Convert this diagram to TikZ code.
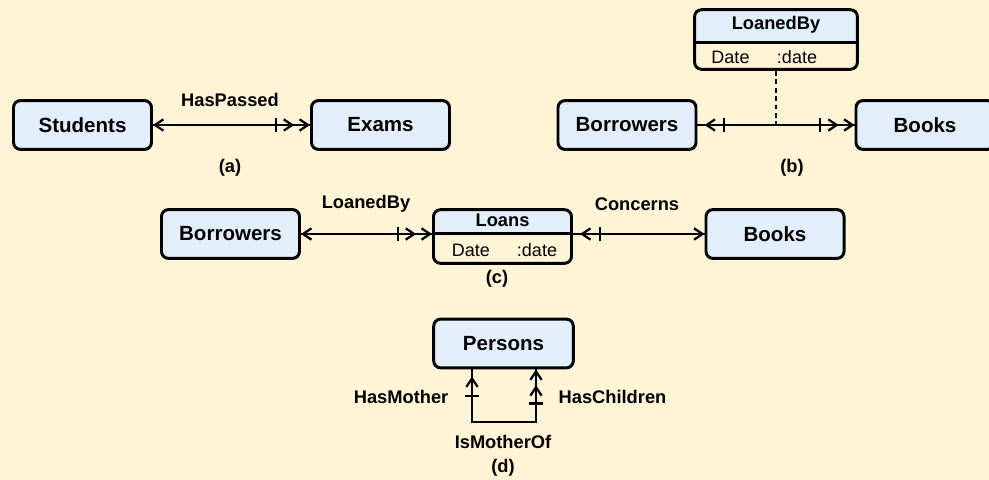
\documentclass[tikz,border=0pt]{standalone}
\usepackage{fontspec}
\setmainfont{Liberation Sans}
\usetikzlibrary{positioning,arrows.meta}

\definecolor{bgcream}{RGB}{255,245,214}
\definecolor{boxblue}{RGB}{226,239,250}

\tikzset{
  entity/.style={draw, line width=2.1pt, rounded corners=5pt, fill=boxblue,
    minimum width=3.45cm, minimum height=1.22cm,
    font=\fontsize{14.6}{17}\selectfont\bfseries},
  compound/.style={draw, line width=2.1pt, rounded corners=5pt, fill=bgcream,
    path picture={
      \fill[boxblue] (path picture bounding box.north west) rectangle ([yshift=-#1]path picture bounding box.north east);
      \draw[line width=2.1pt] ([yshift=-#1]path picture bounding box.north west) -- ([yshift=-#1]path picture bounding box.north east);
    }},
  rel/.style={font=\fontsize{13}{15}\selectfont\bfseries, inner sep=1pt},
  attr/.style={font=\fontsize{12.8}{15}\selectfont, inner sep=1pt},
  link/.style={line width=1.6pt, preaction={draw, arrows=-, line width=1.6pt}},
  ptr/.tip={Straight Barb[length=6pt, width=8pt]},
  tck/.tip={Bar[width=10.5pt]},
}

\begin{document}
\begin{tikzpicture}[x=0.025cm, y=-0.025cm]
  \useasboundingbox (0,0) rectangle (989,480);
  \fill[bgcream] (0,0) rectangle (989,480);

  % (a)
  \node[entity] (students) at (82.5,125) {Students};
  \node[entity] (exams) at (380.5,125) {Exams};
  \draw[link, {ptr[]}-{tck[sep=4pt] ptr[sep=3pt] ptr[]}] (students) -- (exams);
  \node[rel] (haspassed) at (230,100) {HasPassed};
  \node[rel] (capa) at (230,168) {(a)};

  % (b)
  \node[entity] (borrowersb) at (627,125) {Borrowers};
  \node[entity] (booksb) at (925,125) {Books};
  \draw[link, {ptr[sep=5pt] tck[sep=5pt]}-{tck[sep=4pt] ptr[sep=3pt] ptr[]}] (borrowersb) -- (booksb);
  \node[compound=0.81cm, minimum width=4.07cm, minimum height=1.49cm] (loanedby) at (776,39.5) {};
  \node[rel] (loanedbytitle) at (776,25) {LoanedBy};
  \node[attr] (loanedbydate) at (730.5,57) {Date};
  \node[attr] (loanedbytype) at (797,57) {:date};
  \coordinate (loanmid) at (loanedby |- borrowersb);
  \draw[line width=1.5pt, dash pattern=on 3.5pt off 2.5pt] (loanedby) -- (loanmid);
  \node[rel] (capb) at (792,168) {(b)};

  % (c)
  \node[entity] (borrowersc) at (230.5,234) {Borrowers};
  \node[compound=0.6cm, minimum width=3.45cm, minimum height=1.34cm] (loans) at (502.5,236.5) {};
  \node[entity] (booksc) at (775,234) {Books};
  \draw[link, {ptr[]}-{tck[sep=4pt] ptr[sep=3pt] ptr[]}] (borrowersc) -- (borrowersc -| loans.west);
  \draw[link, {ptr[sep=5pt] tck[sep=5pt]}-{ptr[]}] (booksc -| loans.east) -- (booksc);
  \node[rel] (loanstitle) at (502.5,220) {Loans};
  \node[attr] (loansdate) at (471,250) {Date};
  \node[attr] (loanstype) at (537,250) {:date};
  \node[rel] (loanedbylabel) at (366,204) {LoanedBy};
  \node[rel] (concerns) at (637,204) {Concerns};
  \node[rel] (capc) at (497,279) {(c)};

  % (d)
  \node[entity, minimum width=3.49cm] (persons) at (503.5,343.5) {Persons};
  \coordinate (motherfoot) at (472,422);
  \coordinate (childfoot) at (536,422);
  \draw[link, {ptr[sep=5pt] tck[sep=5pt]}-{tck[sep=4pt] ptr[sep=3pt] ptr[]}] (persons.south -| motherfoot) -- (motherfoot) -- (childfoot) -- (persons.south -| childfoot);
  \node[rel, anchor=east] (hasmother) at (450,397) {HasMother};
  \node[rel, anchor=west] (haschildren) at (557,397) {HasChildren};
  \node[rel] (ismotherof) at (503,442) {IsMotherOf};
  \node[rel] (capd) at (503,468) {(d)};
\end{tikzpicture}
\end{document}
